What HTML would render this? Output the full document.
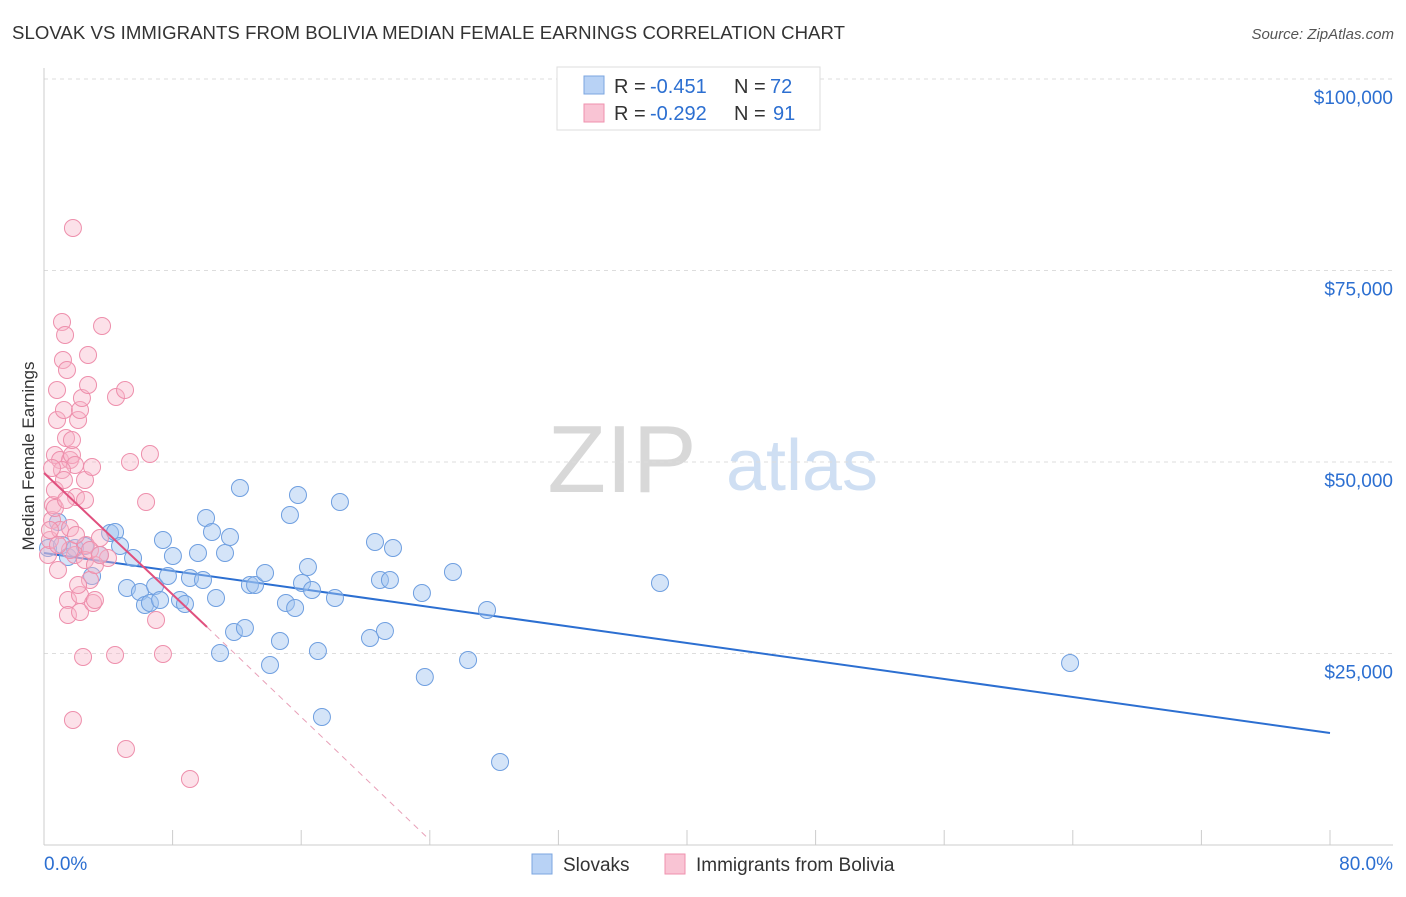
<!DOCTYPE html>
<html><head><meta charset="utf-8"><style>
body{margin:0;background:#fff;font-family:"Liberation Sans",sans-serif;}
svg text{font-family:"Liberation Sans",sans-serif;}
</style></head><body>
<svg id="chart" width="1406" height="892" xmlns="http://www.w3.org/2000/svg">
<text x="12" y="39" font-size="18.6" fill="#333" textLength="833">SLOVAK VS IMMIGRANTS FROM BOLIVIA MEDIAN FEMALE EARNINGS CORRELATION CHART</text>
<text x="1394" y="39" font-size="15" fill="#555" text-anchor="end" font-style="italic">Source: ZipAtlas.com</text>
<text transform="translate(34,456) rotate(-90)" font-size="17" fill="#333" text-anchor="middle">Median Female Earnings</text>
<g>
<text x="622" y="492" font-size="96" fill="#d8d8d8" text-anchor="middle" font-family="Liberation Serif,serif">ZIP</text>
<text x="802" y="490" font-size="72" fill="#cfdff3" text-anchor="middle">atlas</text>
</g>
<g id="grid"></g><g id="axes"></g><g id="lines"></g><g id="pts"></g>
<g>
<rect x="557" y="67" width="263" height="63" fill="#fff" stroke="#ddd"/>
<rect x="584" y="76" width="20" height="18" fill="#b8d2f5" stroke="#7ba6e0"/>
<rect x="584" y="104" width="20" height="18" fill="#f9c4d4" stroke="#ef91ae"/>
<text x="614" y="93" font-size="20" fill="#333">R =</text>
<text x="650" y="93" font-size="20" fill="#2c6fd1">-0.451</text>
<text x="734" y="93" font-size="20" fill="#333">N =</text>
<text x="770" y="93" font-size="20" fill="#2c6fd1">72</text>
<text x="614" y="120" font-size="20" fill="#333">R =</text>
<text x="650" y="120" font-size="20" fill="#2c6fd1">-0.292</text>
<text x="734" y="120" font-size="20" fill="#333">N =</text>
<text x="773" y="120" font-size="20" fill="#2c6fd1">91</text>
</g>
<g>
<rect x="532" y="854" width="20" height="20" fill="#b8d2f5" stroke="#7ba6e0"/>
<text x="563" y="871" font-size="19" fill="#333">Slovaks</text>
<rect x="665" y="854" width="20" height="20" fill="#f9c4d4" stroke="#ef91ae"/>
<text x="696" y="871" font-size="19" fill="#333">Immigrants from Bolivia</text>
</g>
</svg>
<script>
const xTicks=[0,8,16,24,32,40,48,56,64,72,80];
const yTicks=[25000,50000,75000,100000];
const yTickLabels=["$25,000","$50,000","$75,000","$100,000"];
const blueX=[0.25,0.87,1.12,1.49,1.93,2.55,2.99,3.48,4.11,4.42,4.73,5.16,5.54,5.97,6.28,6.59,6.91,7.22,7.40,7.71,8.02,8.46,8.77,9.08,9.58,9.89,10.08,10.45,10.70,10.95,11.26,11.57,11.82,12.19,12.50,12.81,13.13,13.75,14.06,14.68,15.05,15.30,15.62,15.80,16.05,16.42,16.67,17.04,17.29,18.10,18.41,20.28,20.59,20.90,21.21,21.52,21.71,23.51,23.69,25.44,26.38,27.56,28.37,38.32,63.83];
const blueY=[38773,42168,39165,37598,38773,39034,35118,37860,40732,40862,39034,33551,37468,33029,31332,31593,33812,31985,39818,35118,37729,31985,31463,34857,38121,34596,42690,40862,32246,25066,38121,40209,27807,46606,28329,33943,33943,35510,23499,26632,31593,43082,30940,45693,34204,36293,33290,25327,16710,32246,44779,27024,39557,34596,27938,34596,38773,32899,21932,35640,24152,30679,10836,34204,23760];
const pinkX=[0.25,0.37,0.50,0.56,0.68,0.68,0.81,0.81,0.87,1.00,1.12,1.18,1.24,1.31,1.37,1.43,1.49,1.49,1.62,1.74,1.80,1.80,1.93,1.99,2.12,2.24,2.24,2.24,2.36,2.43,2.55,2.55,2.61,2.74,2.74,2.86,2.99,3.05,3.17,3.48,3.61,3.98,4.42,4.48,5.04,5.10,5.35,6.35,6.59,6.97,7.40,9.08,1.00,1.62,0.68,0.37,1.93,2.55,3.17,2.86,1.12,1.62,2.12,0.87,1.37,1.74,1.24,0.50,1.99,3.48];
const pinkY=[37860,39818,42429,44387,46345,50915,55484,59400,35901,50262,68278,63317,56789,66581,53134,62011,31985,30027,50262,50915,80549,16319,49609,45431,55484,56789,32638,30418,58356,24543,47651,45040,39165,60053,63970,34596,49348,31593,31985,40079,67755,37468,24805,58486,59400,12533,50001,44779,51045,29374,24935,8616,41123,41384,43995,41123,37860,37207,36554,38512,48956,38512,33943,39165,45040,52873,47651,49217,40471,37860];
const blueLine=[[0,38121],[80,14622]];
const pinkSolid=[[0,48565],[10.14,28460]];
const pinkDash=[[10.14,28460],[24.0,650]];
const X=v=>44+v*16.075, Y=v=>845-v/130.55;
const NS="http://www.w3.org/2000/svg";
function mk(p,t,a){const e=document.createElementNS(NS,t);for(const k in a)e.setAttribute(k,a[k]);p.appendChild(e);return e;}
const grid=document.getElementById('grid'),axes=document.getElementById('axes'),lines=document.getElementById('lines'),pts=document.getElementById('pts');
yTicks.forEach((v,i)=>{
 const l=mk(grid,'line',{x1:44,x2:1393,y1:Y(v),y2:Y(v),stroke:'#ddd','stroke-dasharray':'4,4'});
 
 
 const t=mk(axes,'text',{x:1393,y:Y(v)+25,'font-size':19,fill:'#2c6fd1','text-anchor':'end'});t.textContent=yTickLabels[i];
 
 
});
mk(axes,'line',{x1:44,x2:44,y1:68,y2:845,stroke:'#ccc'});
mk(axes,'line',{x1:44,x2:1393,y1:845,y2:845,stroke:'#ccc'});
xTicks.forEach(v=>{const l=mk(axes,'line',{x1:X(v),x2:X(v),y1:830,y2:845,stroke:'#ccc'});
 
 });
let t=mk(axes,'text',{x:44,y:870,'font-size':19,fill:'#2c6fd1'});t.textContent='0.0%';

t=mk(axes,'text',{x:1393,y:870,'font-size':19,fill:'#2c6fd1','text-anchor':'end'});t.textContent='80.0%';

blueX.forEach((x,i)=>{const c=mk(pts,'circle',{cx:X(x),cy:Y(blueY[i]),r:8.5,fill:'rgba(160,195,240,0.45)',stroke:'#6f9fe0','stroke-width':1});
 
 });
pinkX.forEach((x,i)=>{const c=mk(pts,'circle',{cx:X(x),cy:Y(pinkY[i]),r:8.5,fill:'rgba(248,180,200,0.4)',stroke:'#ee8fac','stroke-width':1});
 
 });
let L=mk(lines,'line',{x1:X(blueLine[0][0]),y1:Y(blueLine[0][1]),x2:X(blueLine[1][0]),y2:Y(blueLine[1][1]),stroke:'#2c6fd1','stroke-width':2});

L=mk(lines,'line',{x1:X(pinkDash[0][0]),y1:Y(pinkDash[0][1]),x2:X(pinkDash[1][0]),y2:Y(pinkDash[1][1]),stroke:'#e8a0b8','stroke-width':1,'stroke-dasharray':'6,5'});

L=mk(pts,'line',{x1:X(pinkSolid[0][0]),y1:Y(pinkSolid[0][1]),x2:X(pinkSolid[1][0]),y2:Y(pinkSolid[1][1]),stroke:'#e0507e','stroke-width':2});

</script>
</body></html>
